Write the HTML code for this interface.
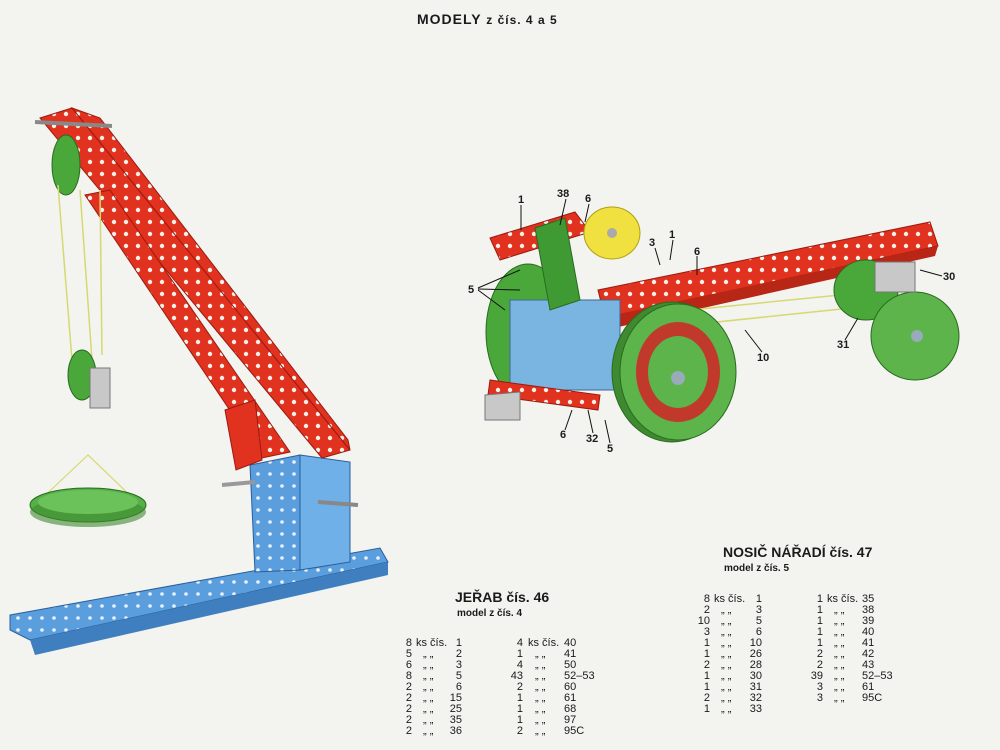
<!DOCTYPE html>
<html><head><meta charset="utf-8"><style>
html,body{margin:0;padding:0;background:#f3f3f0;}
svg{display:block}
text{font-family:"Liberation Sans",sans-serif;fill:#1a1a1a}
.b{font-weight:bold}
.t{font-size:11px}
</style></head><body>
<svg width="1000" height="750" viewBox="0 0 1000 750" xmlns="http://www.w3.org/2000/svg">
<defs>
<pattern id="holesR" width="12" height="12" patternUnits="userSpaceOnUse"><rect width="12" height="12" fill="#e0321e"/><circle cx="6" cy="6" r="2.2" fill="#f8f0e8"/></pattern>
<pattern id="holesB" width="12" height="12" patternUnits="userSpaceOnUse"><rect width="12" height="12" fill="#5a9ede"/><circle cx="6" cy="6" r="1.8" fill="#e8f0f8"/></pattern>
</defs>
<rect width="1000" height="750" fill="#f3f3f0"/>
<text x="417" y="24" class="b" font-size="14" letter-spacing="1">MODELY <tspan font-size="12">z čís. 4 a 5</tspan></text>

<!-- CRANE base -->
<polygon points="10,615 380,548 388,562 30,640 10,630" fill="url(#holesB)" stroke="#2a5e9a"/>
<polygon points="30,640 388,562 388,575 35,655" fill="#3f7fc0"/>
<polygon points="250,465 300,455 300,570 255,572" fill="url(#holesB)" stroke="#2a5e9a"/>
<polygon points="300,455 350,462 350,562 300,570" fill="#6fb0e8" stroke="#2a5e9a"/>
<line x1="318" y1="502" x2="358" y2="505" stroke="#888" stroke-width="4"/>
<line x1="222" y1="485" x2="255" y2="482" stroke="#999" stroke-width="4"/>
<!-- boom -->
<polygon points="40,118 72,108 350,450 322,458" fill="url(#holesR)" stroke="#9a1a10"/>
<polygon points="72,108 100,118 348,440 350,450" fill="url(#holesR)" stroke="#9a1a10"/>
<polygon points="85,195 110,190 290,452 262,458" fill="url(#holesR)" stroke="#9a1a10"/>
<polygon points="225,410 255,400 262,460 236,470" fill="#e0321e" stroke="#9a1a10"/>
<line x1="35" y1="122" x2="112" y2="126" stroke="#888" stroke-width="4"/>
<ellipse cx="66" cy="165" rx="14" ry="30" fill="#4aa83a" stroke="#2a6a20"/>
<!-- ropes -->
<line x1="58" y1="185" x2="72" y2="360" stroke="#d6d870" stroke-width="1.5"/>
<line x1="80" y1="190" x2="92" y2="360" stroke="#d6d870" stroke-width="1.5"/>
<line x1="100" y1="190" x2="102" y2="355" stroke="#d6d870" stroke-width="1.5"/>
<ellipse cx="82" cy="375" rx="14" ry="25" fill="#4aa83a" stroke="#2a6a20"/>
<rect x="90" y="368" width="20" height="40" fill="#c8c8c8" stroke="#777"/>
<polygon points="88,455 35,505 140,505" fill="none" stroke="#d6d870" stroke-width="1.2"/>
<ellipse cx="88" cy="505" rx="58" ry="17" fill="#56b046" stroke="#2a6a20"/>
<ellipse cx="88" cy="512" rx="58" ry="15" fill="#3f8a30" opacity=".6"/>
<ellipse cx="88" cy="502" rx="50" ry="12" fill="#6cc25a"/>

<!-- CARRIER -->
<polygon points="490,238 575,212 590,232 500,260" fill="url(#holesR)" stroke="#9a1a10"/>
<polygon points="598,290 930,222 938,246 605,318" fill="url(#holesR)" stroke="#9a1a10"/>
<polygon points="600,318 938,246 935,256 605,330" fill="#b82616"/>
<ellipse cx="528" cy="332" rx="42" ry="68" fill="#4aa83a" stroke="#2a6a20"/>
<rect x="510" y="300" width="110" height="90" fill="#7ab4e0" stroke="#3a6a98"/>
<polygon points="535,228 565,218 580,300 550,310" fill="#3f9a34" stroke="#2a6a20"/>
<ellipse cx="612" cy="233" rx="28" ry="26" fill="#f0e040" stroke="#b0a010"/>
<circle cx="612" cy="233" r="5" fill="#aaa"/>
<polygon points="490,380 600,395 598,410 488,395" fill="url(#holesR)" stroke="#9a1a10"/>
<polygon points="485,395 520,392 520,420 485,420" fill="#c8c8c8" stroke="#777"/>
<line x1="640" y1="315" x2="890" y2="290" stroke="#d6d870" stroke-width="1.5"/>
<line x1="640" y1="330" x2="880" y2="305" stroke="#d6d870" stroke-width="1.5"/>
<ellipse cx="866" cy="290" rx="32" ry="30" fill="#4aa83a" stroke="#2a6a20"/>
<ellipse cx="672" cy="372" rx="60" ry="70" fill="#3f8a30" stroke="#2a6a20"/>
<ellipse cx="678" cy="372" rx="58" ry="68" fill="#5cb44a" stroke="#2a6a20"/>
<ellipse cx="678" cy="372" rx="42" ry="50" fill="#c0392b"/>
<ellipse cx="678" cy="372" rx="30" ry="36" fill="#5cb44a"/>
<circle cx="678" cy="378" r="7" fill="#9ab"/>
<ellipse cx="915" cy="336" rx="44" ry="44" fill="#5cb44a" stroke="#2a6a20"/>
<circle cx="917" cy="336" r="6" fill="#9ab"/>
<rect x="875" y="262" width="40" height="30" fill="#c8c8c8" stroke="#777"/>

<g class="b" font-size="11">
<text x="518" y="203">1</text><text x="557" y="197">38</text><text x="585" y="202">6</text>
<text x="649" y="246">3</text><text x="669" y="238">1</text><text x="694" y="255">6</text>
<text x="468" y="293">5</text><text x="943" y="280">30</text><text x="757" y="361">10</text>
<text x="837" y="348">31</text><text x="560" y="438">6</text><text x="586" y="442">32</text><text x="607" y="452">5</text>
</g>
<g stroke="#111" stroke-width="1">
<line x1="521" y1="205" x2="521" y2="230"/><line x1="566" y1="199" x2="560" y2="225"/><line x1="589" y1="204" x2="585" y2="222"/>
<line x1="655" y1="248" x2="660" y2="265"/><line x1="673" y1="240" x2="670" y2="260"/><line x1="697" y1="256" x2="697" y2="275"/>
<line x1="478" y1="288" x2="520" y2="270"/><line x1="478" y1="289" x2="520" y2="290"/><line x1="478" y1="290" x2="505" y2="310"/>
<line x1="942" y1="276" x2="920" y2="270"/><line x1="762" y1="352" x2="745" y2="330"/><line x1="845" y1="340" x2="858" y2="318"/>
<line x1="565" y1="430" x2="572" y2="410"/><line x1="593" y1="433" x2="588" y2="410"/><line x1="610" y1="443" x2="605" y2="420"/>
</g>

<!-- Jerab list -->
<text x="455" y="602" class="b" font-size="14">JEŘAB čís. 46</text>
<text x="457" y="616" class="b" font-size="10">model z čís. 4</text>
<g class="t">
<g text-anchor="end">
<text x="412" y="646">8</text><text x="412" y="657">5</text><text x="412" y="668">6</text><text x="412" y="679">8</text><text x="412" y="690">2</text><text x="412" y="701">2</text><text x="412" y="712">2</text><text x="412" y="723">2</text><text x="412" y="734">2</text>
<text x="462" y="646">1</text><text x="462" y="657">2</text><text x="462" y="668">3</text><text x="462" y="679">5</text><text x="462" y="690">6</text><text x="462" y="701">15</text><text x="462" y="712">25</text><text x="462" y="723">35</text><text x="462" y="734">36</text>
<text x="523" y="646">4</text><text x="523" y="657">1</text><text x="523" y="668">4</text><text x="523" y="679">43</text><text x="523" y="690">2</text><text x="523" y="701">1</text><text x="523" y="712">1</text><text x="523" y="723">1</text><text x="523" y="734">2</text>
</g>
<text x="416" y="646">ks čís.</text><text x="528" y="646">ks čís.</text>
<text x="423" y="657">„  „</text><text x="423" y="668">„  „</text><text x="423" y="679">„  „</text><text x="423" y="690">„  „</text><text x="423" y="701">„  „</text><text x="423" y="712">„  „</text><text x="423" y="723">„  „</text><text x="423" y="734">„  „</text>
<text x="535" y="657">„  „</text><text x="535" y="668">„  „</text><text x="535" y="679">„  „</text><text x="535" y="690">„  „</text><text x="535" y="701">„  „</text><text x="535" y="712">„  „</text><text x="535" y="723">„  „</text><text x="535" y="734">„  „</text>
<text x="564" y="646">40</text><text x="564" y="657">41</text><text x="564" y="668">50</text><text x="564" y="679">52–53</text><text x="564" y="690">60</text><text x="564" y="701">61</text><text x="564" y="712">68</text><text x="564" y="723">97</text><text x="564" y="734">95C</text>
</g>

<!-- Nosic list -->
<text x="723" y="557" class="b" font-size="14">NOSIČ NÁŘADÍ čís. 47</text>
<text x="724" y="571" class="b" font-size="10">model z čís. 5</text>
<g class="t">
<g text-anchor="end">
<text x="710" y="602">8</text><text x="710" y="613">2</text><text x="710" y="624">10</text><text x="710" y="635">3</text><text x="710" y="646">1</text><text x="710" y="657">1</text><text x="710" y="668">2</text><text x="710" y="679">1</text><text x="710" y="690">1</text><text x="710" y="701">2</text><text x="710" y="712">1</text>
<text x="762" y="602">1</text><text x="762" y="613">3</text><text x="762" y="624">5</text><text x="762" y="635">6</text><text x="762" y="646">10</text><text x="762" y="657">26</text><text x="762" y="668">28</text><text x="762" y="679">30</text><text x="762" y="690">31</text><text x="762" y="701">32</text><text x="762" y="712">33</text>
<text x="823" y="602">1</text><text x="823" y="613">1</text><text x="823" y="624">1</text><text x="823" y="635">1</text><text x="823" y="646">1</text><text x="823" y="657">2</text><text x="823" y="668">2</text><text x="823" y="679">39</text><text x="823" y="690">3</text><text x="823" y="701">3</text>
</g>
<text x="714" y="602">ks čís.</text><text x="827" y="602">ks čís.</text>
<text x="721" y="613">„  „</text><text x="721" y="624">„  „</text><text x="721" y="635">„  „</text><text x="721" y="646">„  „</text><text x="721" y="657">„  „</text><text x="721" y="668">„  „</text><text x="721" y="679">„  „</text><text x="721" y="690">„  „</text><text x="721" y="701">„  „</text><text x="721" y="712">„  „</text>
<text x="834" y="613">„  „</text><text x="834" y="624">„  „</text><text x="834" y="635">„  „</text><text x="834" y="646">„  „</text><text x="834" y="657">„  „</text><text x="834" y="668">„  „</text><text x="834" y="679">„  „</text><text x="834" y="690">„  „</text><text x="834" y="701">„  „</text>
<text x="862" y="602">35</text><text x="862" y="613">38</text><text x="862" y="624">39</text><text x="862" y="635">40</text><text x="862" y="646">41</text><text x="862" y="657">42</text><text x="862" y="668">43</text><text x="862" y="679">52–53</text><text x="862" y="690">61</text><text x="862" y="701">95C</text>
</g>
</svg>
</body></html>
